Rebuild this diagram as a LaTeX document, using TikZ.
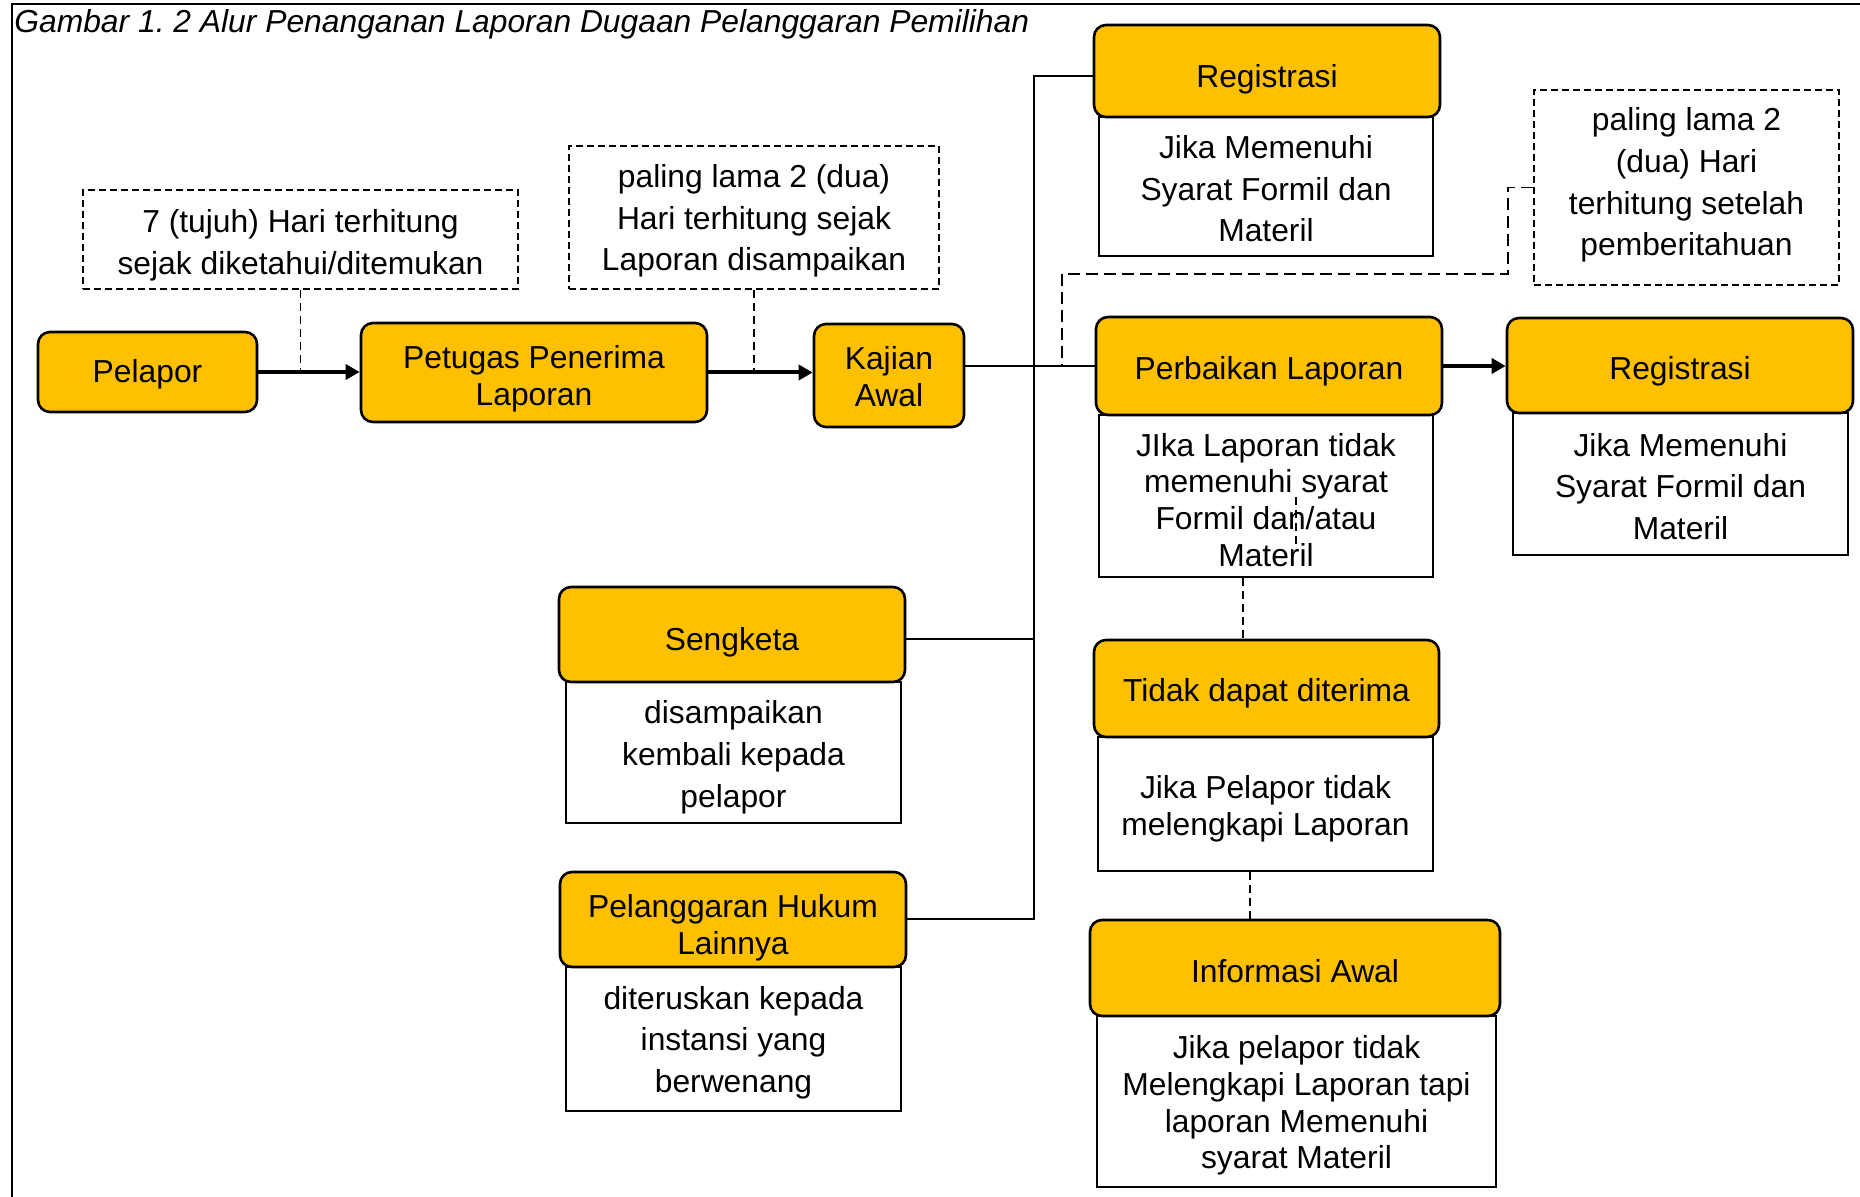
\documentclass[tikz,border=0pt]{standalone}
\usepackage{fontspec}
\setmainfont{Liberation Sans}
\usetikzlibrary{arrows.meta}
\definecolor{gold}{RGB}{255,192,0}
\newcommand\fsA{\fontsize{15.9}{20.8}\selectfont}
\newcommand\fsB{\fontsize{15.9}{18.4}\selectfont}
% name, x1, y1, x2, y2, style, shift-down (pt), text
\newcommand\pbox[8]{%
  \pgfmathsetmacro\pbW{(#4-#2)*0.5}%
  \pgfmathsetmacro\pbH{(#5-#3)*0.5}%
  \node[#6, minimum width=\pbW pt, minimum height=\pbH pt] (#1) at ({(#2+#4)/2},{(#3+#5)/2}) {};
  \node[#6, draw=none, fill=none, minimum width=0pt, minimum height=0pt, yshift=-#7pt] at (#1.center) {#8};}
\begin{document}
\begin{tikzpicture}[x=0.5pt,y=-0.5pt,
  hdr/.style={draw=black, line width=1.3pt, fill=gold, rounded corners=6pt, inner sep=0pt, align=center},
  body/.style={draw=black, line width=1.1pt, fill=white, inner sep=0pt, align=center},
  dbox/.style={draw=black, line width=0.8pt, dash pattern=on 3.5pt off 2pt, inner sep=0pt, align=center},
  conn/.style={line width=1pt},
  arr/.style={line width=2pt, -{Triangle[length=7pt,width=7.5pt]}},
  dsh/.style={line width=0.8pt, dash pattern=on 4pt off 2.5pt},
  dshl/.style={line width=0.9pt, dash pattern=on 6pt off 3pt}]
\useasboundingbox (0,0) rectangle (1860,1197);
\fill[white] (0,0) rectangle (1860,1197);
% frame
\draw[line width=1.1pt] (12,1197) -- (12,4) -- (1860,4);
\node[anchor=base west, inner sep=0pt, font=\fsA\itshape] (title) at (14,33) {Gambar 1.\ 2 Alur Penanganan Laporan Dugaan Pelanggaran Pemilihan};
% left flow
\pbox{pel}{38}{332}{257}{412}{hdr,font=\fsA}{1.2}{Pelapor}
\pbox{pet}{361}{323}{707}{422}{hdr,font=\fsB}{3}{Petugas Penerima\\Laporan}
\pbox{kaj}{814}{324}{964}{427}{hdr,font=\fsB}{0.6}{Kajian\\Awal}
\pbox{da}{83}{190}{518}{289}{dbox,font=\fsA}{3}{7 (tujuh) Hari terhitung\\sejak diketahui/ditemukan}
\pbox{db}{569}{146}{939}{289}{dbox,font=\fsA}{1.8}{paling lama 2 (dua)\\Hari terhitung sejak\\Laporan disampaikan}
\pbox{dc}{1534}{90}{1839}{285}{dbox,font=\fsA}{-1.2}{paling lama 2\\(dua) Hari\\terhitung setelah\\pemberitahuan}
% Registrasi top
\pbox{rab}{1099}{117}{1433}{256}{body,font=\fsA}{1.2}{Jika Memenuhi\\Syarat Formil dan\\Materil}
\pbox{rah}{1094}{25}{1440}{117}{hdr,font=\fsA}{4.1}{Registrasi}
% Perbaikan
\pbox{perb}{1099}{415}{1433}{577}{body,font=\fsB}{2}{JIka Laporan tidak\\memenuhi syarat\\Formil dan/atau\\Materil}
\pbox{perh}{1096}{317}{1442}{415}{hdr,font=\fsA}{2.4}{Perbaikan Laporan}
% Registrasi right
\pbox{rbb}{1513}{413}{1848}{555}{body,font=\fsA}{1.2}{Jika Memenuhi\\Syarat Formil dan\\Materil}
\pbox{rbh}{1507}{318}{1853}{413}{hdr,font=\fsA}{3}{Registrasi}
% Sengketa
\pbox{sgb}{566}{682}{901}{823}{body,font=\fsA}{2.4}{disampaikan\\kembali kepada\\pelapor}
\pbox{sgh}{559}{587}{905}{682}{hdr,font=\fsA}{4.1}{Sengketa}
% Pelanggaran
\pbox{plb}{566}{967}{901}{1111}{body,font=\fsA}{1.8}{diteruskan kepada\\instansi yang\\berwenang}
\pbox{plh}{560}{872}{906}{967}{hdr,font=\fsB}{4.1}{Pelanggaran Hukum\\Lainnya}
% Tidak dapat diterima
\pbox{tdb}{1098}{737}{1433}{871}{body,font=\fsB}{2.4}{Jika Pelapor tidak\\melengkapi Laporan}
\pbox{tdh}{1094}{640}{1439}{737}{hdr,font=\fsA}{2.4}{Tidak dapat diterima}
% Informasi Awal
\pbox{inb}{1097}{1016}{1496}{1187}{body,font=\fsB}{2}{Jika pelapor tidak\\Melengkapi Laporan tapi\\laporan Memenuhi\\syarat Materil}
\pbox{inh}{1090}{920}{1500}{1016}{hdr,font=\fsA}{1.8}{Informasi Awal}
% connectors
\draw[arr] (pel.east) -- (pel.east -| pet.west);
\draw[arr] (pet.east) -- (pet.east -| kaj.west);
\draw[dsh] (da.south) -- (da.south |- pel.east);
\draw[dsh] (db.south) -- (db.south |- pet.east);
\draw[conn] (kaj.east |- perh.west) -- (perh.west);
\draw[arr] (perh.east) -- (perh.east -| rbh.west);
\coordinate (tk) at (1034,76);
\draw[conn] (tk -| rah.west) -- (tk) |- (plh.east);
\coordinate (sgy) at (0,639);
\draw[conn] (sgh.east |- sgy) -- (tk |- sgy);
\coordinate (dj) at (1062,274);
\draw[dshl] (dc.west) -- ++(-25,0) |- (dj) -- (dj |- perh.west);
\coordinate (v1) at (1243,0);
\draw[dsh] (perb.south -| v1) -- (tdh.north -| v1);
\coordinate (v2) at (1250,0);
\draw[dsh] (tdb.south -| v2) -- (inh.north -| v2);
\coordinate (s1) at (1296,497);
\coordinate (s2) at (1296,547);
\draw[dsh] (s1) -- (s2);
\end{tikzpicture}
\end{document}
